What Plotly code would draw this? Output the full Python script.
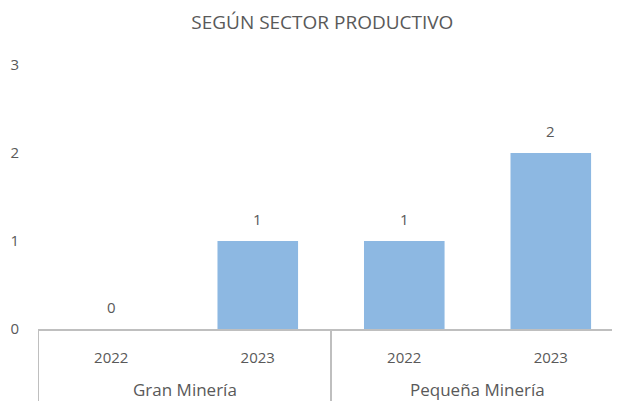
import plotly.graph_objects as go

sectores = ["Gran Minería", "Gran Minería", "Pequeña Minería", "Pequeña Minería"]
anios = ["2022", "2023", "2022", "2023"]
valores = [0, 1, 1, 2]
y_ticks = [0, 1, 2, 3]

gray = "#595959"
line_gray = "#BFBFBF"
FONT = "Open Sans"
idx = list(range(len(valores)))

T, B, L, R = 57, 80, 30, 0
plot_h = 401 - T - B

fig = go.Figure(go.Bar(
    x=idx,
    y=valores,
    marker=dict(color="#8DB8E2", line=dict(width=0)),
    width=0.55,
    hoverinfo="skip",
))

annotations = []
for i, v in zip(idx, valores):
    annotations.append(dict(x=i, y=v, xref="x", yref="y", text=str(v),
                            showarrow=False, yshift=22, yanchor="middle",
                            font=dict(family=FONT, size=15, color=gray)))

# group labels and dividers
groups = []
for i, s in enumerate(sectores):
    if not groups or groups[-1][0] != s:
        groups.append([s, i, i])
    else:
        groups[-1][2] = i

shapes = []
for name, a, b in groups:
    annotations.append(dict(x=(a + b) / 2, y=0, xref="x", yref="paper", text=name,
                            showarrow=False, yshift=-60, yanchor="middle",
                            font=dict(family=FONT, size=17, color=gray)))
    shapes.append(dict(type="line", xref="x", yref="paper", x0=a - 0.5, x1=a - 0.5,
                       y0=0, y1=-B / plot_h, line=dict(color=line_gray, width=2)))
last = groups[-1][2] + 0.5
shapes.append(dict(type="line", xref="x", yref="paper", x0=last, x1=last,
                   y0=0, y1=-B / plot_h, line=dict(color=line_gray, width=2)))

fig.update_layout(
    width=620, height=401,
    margin=dict(l=L, r=R, t=T, b=B),
    paper_bgcolor="white", plot_bgcolor="white",
    showlegend=False,
    title=dict(text="SEGÚN SECTOR PRODUCTIVO", x=0.507, xanchor="center",
               y=1 - 14 / 401, yanchor="middle",
               font=dict(family=FONT, size=19, color=gray)),
    annotations=annotations,
    shapes=shapes,
)
fig.update_xaxes(
    range=[-0.5, 3.527], tickvals=idx, ticktext=anios,
    showline=True, linecolor=line_gray, linewidth=2,
    showgrid=False, zeroline=False, ticks="", ticklabelstandoff=14,
    tickfont=dict(family=FONT, size=15, color=gray),
)
fig.update_yaxes(
    range=[0, 3], tickvals=y_ticks, showgrid=False, zeroline=False,
    showline=False, ticks="", ticklabelstandoff=18,
    tickfont=dict(family=FONT, size=15, color=gray),
)

fig.write_html("out.html")
